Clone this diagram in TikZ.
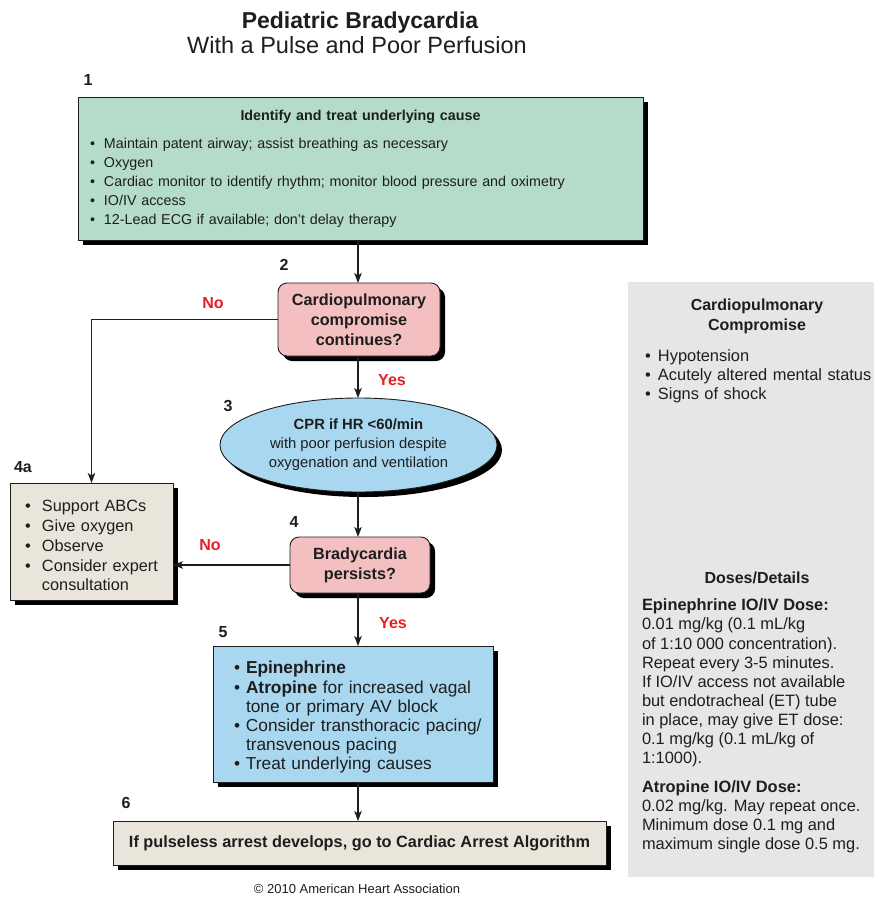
\documentclass[tikz,border=0pt]{standalone}
\usepackage{fontspec}
\setmainfont{Liberation Sans}
\usetikzlibrary{shapes.geometric,shadows,arrows.meta}
\definecolor{boxgreen}{RGB}{180,220,201}
\definecolor{boxpink}{RGB}{243,191,192}
\definecolor{boxblue}{RGB}{168,215,239}
\definecolor{boxbeige}{RGB}{233,229,218}
\definecolor{panelgray}{RGB}{230,230,230}
\definecolor{ahared}{RGB}{232,30,37}
\definecolor{ink}{RGB}{30,30,30}
\newlength\bw
\newcommand\bl[1]{\par\noindent\mbox{\makebox[\bw][l]{•}#1}}
\newcommand\cn[1]{\par\noindent\mbox{\hspace*{\bw}#1}}
\newcommand\fs[2]{\fontsize{#1}{#2}\selectfont}
\begin{document}
\begin{tikzpicture}[x=1pt,y=-1pt,
  shadowed/.style={drop shadow={shadow xshift=5pt,shadow yshift=-5pt,fill=black,opacity=1}},
  boxbase/.style={draw=ink,line width=0.9pt,shadowed,inner sep=0pt,outer sep=0pt,text=ink},
  arr/.style={-{Stealth[length=10pt,width=7.5pt,inset=2.5pt]},line width=1.3pt,draw=ink},
  numlabel/.style={font=\bfseries\fs{16}{18},inner sep=0pt,text=ink},
  yn/.style={font=\bfseries\fs{16}{18},text=ahared,inner sep=0pt},
  plain/.style={inner sep=0pt,outer sep=0pt,text=ink}]
\useasboundingbox (0,0) rectangle (874,897);
\fill[white] (0,0) rectangle (874,897);

% title
\node[plain,font=\bfseries\fs{23}{26},anchor=base] (title) at (360,28) {Pediatric Bradycardia};
\node[plain,font=\fs{23.5}{26},anchor=base] (subtitle) at (357,53) {With a Pulse and Poor Perfusion};

% right panel
\node[fill=panelgray,minimum width=246pt,minimum height=595pt,inner sep=0pt,anchor=north west] (panel) at (628,282) {};

\coordinate (col) at (358,0);

% box 1
\node[boxbase,fill=boxgreen,minimum width=565pt,minimum height=143pt,text width=541pt,align=left,font=\fs{14.3}{19}] (n1) at (360.5,168.5) {%
  \setlength\bw{14pt}%
  {\centering\bfseries Identify and treat underlying cause\par}\vspace{9pt}%
  \bl{Maintain patent airway; assist breathing as necessary}%
  \bl{Oxygen}%
  \bl{Cardiac monitor to identify rhythm; monitor blood pressure and oximetry}%
  \bl{IO/IV access}%
  \bl{12-Lead ECG if available; don’t delay therapy}};
\node[numlabel] (l1) at (88,80) {1};

% box 2
\node[boxbase,rounded corners=9pt,fill=boxpink,minimum width=162pt,minimum height=73pt,align=center,font=\bfseries\fs{16.2}{20}] (n2) at (359,319.5) {Cardiopulmonary\\compromise\\continues?};
\node[numlabel] (l2) at (284,265) {2};

% ellipse 3
\node[boxbase,ellipse,fill=boxblue,minimum width=277pt,minimum height=94pt,align=center,font=\fs{14.8}{19}] (n3) at (358.5,445) {\textbf{CPR if HR <60/min}\\with poor perfusion despite\\oxygenation and ventilation};
\node[numlabel] (l3) at (228,406) {3};

% box 4a
\node[boxbase,fill=boxbeige,minimum width=163pt,minimum height=117pt,text width=133pt,align=left,font=\fs{16.3}{19.75}] (n4a) at (91.5,541.5) {%
  \setlength\bw{17pt}%
  \bl{Support ABCs}\bl{Give oxygen}\bl{Observe}\bl{Consider expert}\cn{consultation}};
\node[numlabel] (l4a) at (23,467) {4a};

% box 4
\node[boxbase,rounded corners=9pt,fill=boxpink,minimum width=140pt,minimum height=56pt,align=center,font=\bfseries\fs{16.2}{20}] (n4) at (360,565) {Bradycardia\\persists?};
\node[numlabel] (l4) at (294,522) {4};

% box 5
\node[boxbase,fill=boxblue,minimum width=280pt,minimum height=136pt,text width=238pt,align=left,font=\fs{17.3}{19.2}] (n5) at (353,714) {%
  \setlength\bw{12pt}%
  \bl{\textbf{Epinephrine}}%
  \bl{\textbf{Atropine} for increased vagal}%
  \cn{tone or primary AV block}%
  \bl{Consider transthoracic pacing/}%
  \cn{transvenous pacing}%
  \bl{Treat underlying causes}};
\node[numlabel] (l5) at (223,632) {5};

% box 6
\node[boxbase,fill=boxbeige,minimum width=493pt,minimum height=44pt,font=\bfseries\fs{16.3}{19}] (n6) at (359.5,843) {If pulseless arrest develops, go to Cardiac Arrest Algorithm};
\node[numlabel] (l6) at (126,803) {6};

% connectors
\draw[arr] (n1.south -| col) -- (n2.north -| col);
\draw[arr] (n2.west) -| (n4a.north);
\node[yn] (no1) at (213,303) {No};
\draw[arr] (n2.south -| col) -- (n3.north -| col);
\node[yn] (yes1) at (392,380) {Yes};
\draw[arr] (n3.south -| col) -- (n4.north -| col);
\draw[arr] (n4.west) -- (n4.west -| n4a.east);
\node[yn] (no2) at (210,545) {No};
\draw[arr] (n4.south -| col) -- (n5.north -| col);
\node[yn] (yes2) at (393,623) {Yes};
\draw[arr] (n5.south -| col) -- (n6.north -| col);

% panel text
\node[plain,font=\bfseries\fs{16}{20},align=center,anchor=north] (cpc) at (757,299) {Cardiopulmonary\\Compromise};
\node[plain,font=\fs{16.4}{18.7},text width=220pt,align=left,anchor=north west] (cpcl) at (645,343) {%
  \setlength\bw{13pt}%
  \bl{Hypotension}\bl{Acutely altered mental status}\bl{Signs of shock}};
\node[plain,font=\bfseries\fs{16}{20},anchor=north] (dd) at (757,572) {Doses/Details};
\node[plain,font=\fs{16.4}{19.1},align=left,anchor=north west] (epi) at (642,599) {%
  \textbf{Epinephrine IO/IV Dose:}\\
  0.01 mg/kg (0.1 mL/kg\\
  of 1:10 000 concentration).\\
  Repeat every 3-5 minutes.\\
  If IO/IV access not available\\
  but endotracheal (ET) tube\\
  in place, may give ET dose:\\
  0.1 mg/kg (0.1 mL/kg of\\
  1:1000).\\[9.9pt]
  \textbf{Atropine IO/IV Dose:}\\
  0.02 mg/kg. May repeat once.\\
  Minimum dose 0.1 mg and\\
  maximum single dose 0.5 mg.};

% copyright
\node[plain,font=\fs{13}{15}] (copy) at (357,889) {© 2010 American Heart Association};
\end{tikzpicture}
\end{document}
